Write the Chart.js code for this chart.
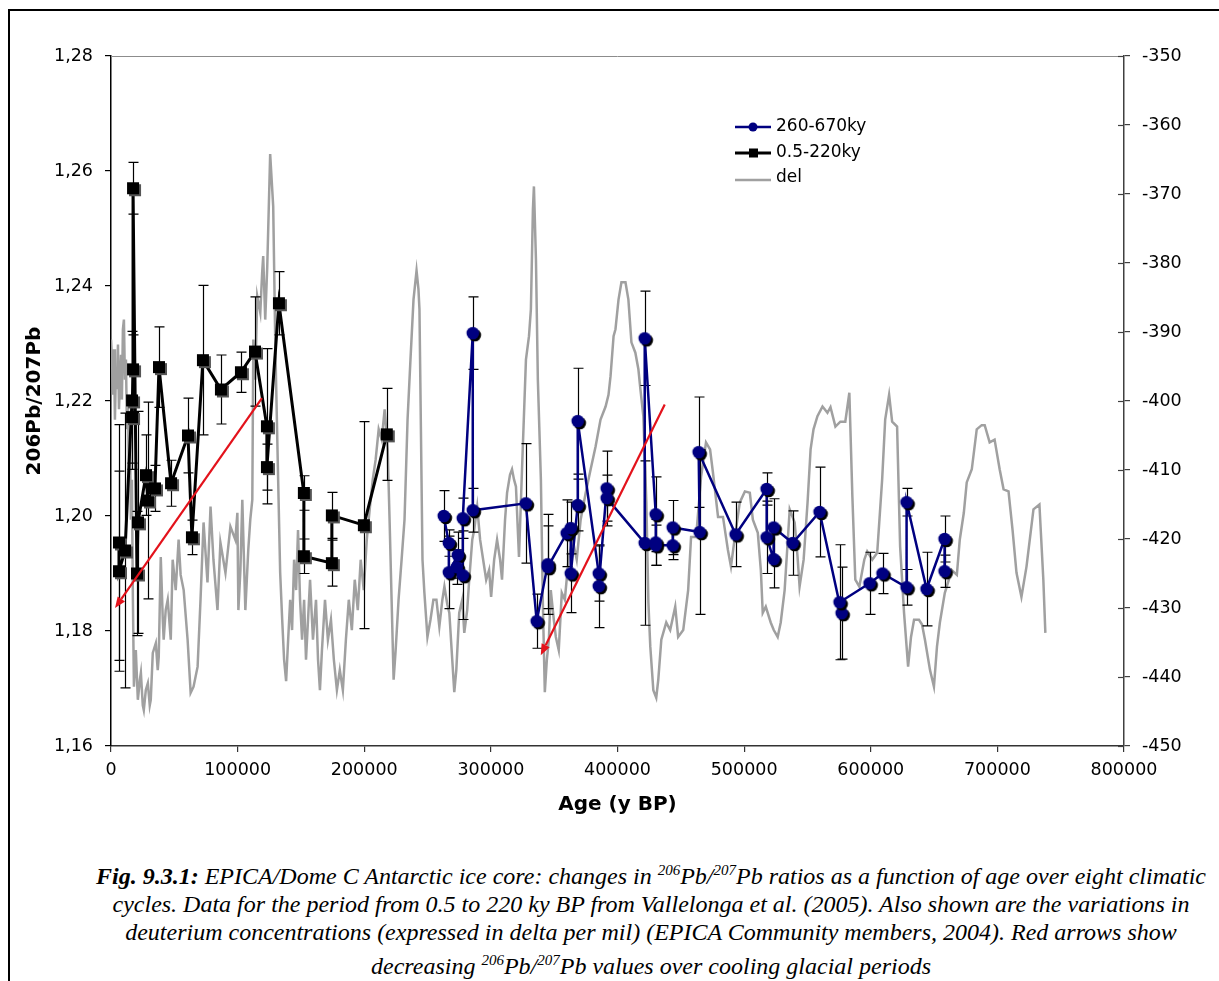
<!DOCTYPE html>
<html>
<head>
<meta charset="utf-8">
<script src="https://cdn.jsdelivr.net/npm/chart.js@4.4.1/dist/chart.umd.min.js"></script>
<style>
html, body { margin: 0; padding: 0; background: #fff; }
body { width: 1219px; height: 981px; overflow: hidden; position: relative; }
#frame { position: absolute; left: 8px; top: 9px; width: 1211px; height: 972px; border-left: 2px solid #000; border-top: 2px solid #000; }
#wrap { position: absolute; left: 0; top: 0; width: 1219px; height: 840px; }
#caption { position: absolute; left: 51px; top: 856px; width: 1200px; text-align: center;
  font-family: "Liberation Serif", "Times New Roman", serif; font-style: italic; font-size: 24px;
  line-height: 28px; white-space: nowrap; color: #000; }
#caption sup { font-size: 15px; }
</style>
</head>
<body>
<div id="frame"></div>
<div id="wrap"><canvas id="pb-chart" width="1219" height="840"></canvas></div>
<div id="caption">
<b>Fig. 9.3.1:</b> EPICA/Dome C Antarctic ice core: changes in <sup>206</sup>Pb/<sup>207</sup>Pb ratios as a function of age over eight climatic<br>
cycles. Data for the period from 0.5 to 220 ky BP from Vallelonga et al. (2005). Also shown are the variations in<br>
deuterium concentrations (expressed in delta per mil) (EPICA Community members, 2004). Red arrows show<br>
decreasing <sup>206</sup>Pb/<sup>207</sup>Pb values over cooling glacial periods
</div>
<script>
'use strict';

/* ── データ ─────────────────────────── */
// 0.5-220ky (age, 206Pb/207Pb, ±err)
const oldAge = [6300, 6300, 11100, 16600, 16600, 17400, 17400, 20500, 21300, 27600, 29200, 34700, 37900, 47400, 60800,
  63900, 72600, 86800, 102600, 113700, 123100, 123100, 132600, 152300, 152300, 174400, 174400, 199700, 217800];
const oldVal = [1.1954, 1.1904, 1.1940, 1.2201, 1.2172, 1.2255, 1.2570, 1.1900, 1.1989, 1.2071, 1.2027, 1.2048, 1.2259, 1.2057, 1.2140,
  1.1963, 1.2271, 1.2220, 1.2250, 1.2286, 1.2156, 1.2085, 1.2370, 1.2040, 1.1930, 1.1918, 1.2001, 1.1984, 1.2142];
const oldErr = [0.0205, 0.0174, 0.0239, 0.012, 0.008, 0.006, 0.0045, 0.0108, 0.0193, 0.007, 0.0171, 0.004, 0.007, 0.004, 0.0065,
  0.003, 0.013, 0.006, 0.0035, 0.0095, 0.0135, 0.004, 0.0055, 0.003, 0.003, 0.004, 0.004, 0.018, 0.008];

// 260-670ky
const newAge = [262800, 266800, 266800, 273900, 273100, 277800, 277800, 285700, 285700, 327600, 336200, 344900, 344900, 359900, 363100, 363100,
  368600, 368600, 385200, 385200, 391500, 391500, 421500, 421500, 430200, 430200, 430200, 443600, 443600, 464900, 464100, 493300,
  517800, 517800, 523300, 523300, 538300, 559600, 577000, 575400, 599100, 609300, 628300, 628300, 644100, 658300, 658300];
const newVal = [1.2000, 1.1953, 1.1902, 1.1932, 1.1911, 1.1897, 1.1996, 1.2318, 1.2010, 1.2022, 1.1817, 1.1916, 1.1911, 1.1970, 1.1979, 1.1900,
  1.2019, 1.2165, 1.1900, 1.1878, 1.2048, 1.2031, 1.1953, 1.2309, 1.2003, 1.1954, 1.1949, 1.1949, 1.1980, 1.1972, 1.2111, 1.1968,
  1.2047, 1.1963, 1.1925, 1.1980, 1.1953, 1.2007, 1.1831, 1.1850, 1.1883, 1.1900, 1.1876, 1.2024, 1.1873, 1.1960, 1.1904];
const newErr = [0.0044, 0.0023, 0.0063, 0.004, 0.003, 0.0077, 0.0035, 0.0063, 0.0038, 0.0104, 0.0047, 0.0087, 0.0072, 0.0058, 0.0045, 0.0068,
  0.0045, 0.0092, 0.0048, 0.0072, 0.0065, 0.004, 0.0143, 0.0082, 0.0065, 0.004, 0.0035, 0.0025, 0.0047, 0.0143, 0.0096, 0.0056,
  0.0028, 0.0063, 0.005, 0.005, 0.0056, 0.0078, 0.008, 0.010, 0.0054, 0.0035, 0.0031, 0.0024, 0.0064, 0.004, 0.0028];

// del (deuterium, 右軸) [age, ‰]
const delRecord = [
  [0,-391.1],[800,-394.0],[1600,-399.1],[2400,-392.5],[3100,-402.7],[3900,-395.4],[4700,-398.3],[5500,-391.8],[6300,-401.2],[7100,-396.9],
  [7900,-393.3],[8600,-399.8],[9400,-389.6],[10200,-388.2],[11000,-396.9],[11800,-394.0],[12600,-404.1],[13400,-399.8],[14100,-409.9],[14900,-405.6],
  [15700,-417.2],[16500,-411.4],[17300,-428.8],[18100,-441.4],[19600,-436.1],[21200,-443.3],[22800,-440.4],[23600,-439.4],[25100,-444.1],[25900,-444.8],
  [27500,-441.9],[29100,-440.9],[30600,-444.1],[31400,-443.3],[33000,-436.5],[35400,-435.1],[36900,-439.0],[37700,-437.1],[39300,-422.6],[40900,-431.7],
  [41600,-434.6],[43200,-430.3],[44800,-428.8],[47200,-434.6],[48700,-423.0],[51100,-427.4],[53400,-420.1],[55000,-425.2],[57400,-427.4],[60500,-434.6],
  [62900,-442.3],[65200,-441.4],[68400,-438.5],[70700,-428.8],[73100,-417.6],[76200,-426.3],[78600,-415.3],[80900,-423.0],[84100,-430.3],[86400,-420.5],
  [90400,-424.9],[94300,-418.2],[98200,-420.1],[99800,-416.2],[100600,-430.3],[102200,-424.5],[103700,-414.3],[106100,-430.3],[108400,-421.6],[110000,-417.2],
  [111600,-414.3],[112400,-391.1],[113900,-396.9],[115500,-384.8],[117900,-387.2],[119400,-381.3],[120200,-379.0],[121800,-388.2],[123400,-380.5],[125700,-364.2],
  [128100,-371.8],[129700,-391.1],[130500,-398.3],[132000,-411.4],[133600,-424.9],[135200,-431.7],[136700,-437.5],[138300,-440.6],[139900,-434.6],[141500,-428.8],
  [143000,-433.2],[144600,-423.0],[146200,-427.4],[147700,-418.7],[149300,-428.8],[150900,-434.6],[152500,-428.8],[154000,-437.5],[155600,-431.7],[157200,-425.9],
  [159500,-434.6],[161900,-428.8],[163500,-437.5],[165000,-441.9],[166600,-436.1],[169000,-428.8],[171300,-434.6],[173700,-431.7],[176000,-437.5],[178400,-441.9],
  [180700,-439.0],[183100,-441.9],[185500,-434.6],[187800,-428.8],[190200,-433.2],[192500,-425.9],[194900,-430.3],[197200,-423.0],[199600,-427.4],[202000,-420.1],
  [204300,-415.7],[206700,-411.4],[209000,-408.5],[211400,-404.1],[213800,-405.6],[216100,-401.2],[218500,-407.0],[220000,-417.2],[221600,-428.8],[223200,-440.4],
  [224800,-436.1],[227100,-428.8],[229500,-423.0],[231800,-417.2],[234200,-402.7],[236500,-394.0],[238900,-385.3],[241300,-381.1],[242800,-383.8],[243600,-386.7],
  [246000,-423.0],[247500,-427.8],[249900,-434.2],[252300,-431.7],[254600,-428.8],[257000,-428.8],[259300,-432.7],[261700,-428.8],[263300,-426.9],[265600,-429.5],
  [267200,-430.7],[269500,-437.5],[271100,-442.2],[272700,-439.0],[275000,-430.7],[277400,-428.8],[279000,-433.6],[281300,-430.3],[282900,-425.9],[285300,-420.1],
  [286800,-418.7],[289200,-415.3],[291500,-420.1],[293900,-423.0],[296300,-425.9],[298600,-424.5],[300200,-428.4],[302600,-423.0],[304900,-420.1],[307300,-423.0],
  [308800,-425.9],[311200,-417.2],[312800,-413.3],[315100,-410.7],[316700,-409.9],[318300,-411.4],[319800,-412.4],[322200,-422.6],[324600,-409.9],[327700,-394.0],
  [330100,-390.6],[331600,-386.7],[333200,-372.2],[334000,-368.9],[335600,-379.5],[337100,-396.9],[339500,-411.4],[341000,-428.8],[342600,-442.2],[344200,-437.5],
  [345800,-434.6],[347300,-427.4],[349700,-431.7],[351300,-434.2],[353600,-436.1],[356000,-427.8],[358400,-428.8],[361500,-422.6],[364600,-420.1],[367800,-423.0],
  [370900,-417.2],[374900,-413.3],[378800,-409.9],[382700,-406.6],[386600,-402.7],[390600,-400.8],[392900,-399.1],[394500,-396.4],[396900,-390.6],[398400,-389.6],
  [400800,-385.3],[403100,-382.8],[406300,-382.8],[408600,-385.3],[411000,-391.5],[414100,-393.0],[416500,-395.4],[418100,-398.3],[420400,-402.2],[422800,-414.7],
  [424400,-429.2],[425900,-435.6],[428300,-441.9],[430600,-443.0],[432200,-440.4],[434600,-434.6],[438500,-432.1],[441600,-433.2],[445600,-429.8],[447900,-434.2],
  [451900,-433.2],[455800,-427.4],[458100,-419.7],[462100,-419.7],[466000,-411.0],[469900,-406.0],[473100,-407.0],[475400,-410.4],[479400,-416.8],[483300,-416.8],
  [487200,-421.6],[489600,-424.0],[492700,-419.7],[496600,-414.7],[500600,-413.1],[504500,-413.3],[506900,-417.2],[510800,-419.1],[513200,-424.5],[514700,-430.7],
  [517100,-429.8],[521000,-432.1],[523400,-433.2],[526500,-434.2],[528900,-432.1],[532000,-427.4],[536000,-415.7],[539900,-417.6],[542200,-422.6],[543800,-426.9],
  [547000,-423.0],[550100,-414.7],[552500,-407.0],[554800,-404.1],[557900,-402.2],[561900,-400.8],[565800,-401.7],[568200,-400.9],[572100,-403.7],[576000,-403.0],
  [579900,-403.0],[583100,-398.8],[585500,-413.9],[587800,-425.9],[591000,-426.9],[594900,-423.0],[597200,-421.8],[601200,-423.0],[605100,-422.0],[609000,-411.4],
  [611400,-402.7],[614500,-399.1],[616900,-403.0],[620800,-403.7],[623200,-421.1],[626300,-430.7],[629500,-438.5],[631800,-434.2],[634200,-431.7],[638100,-431.7],
  [640500,-432.4],[642800,-434.6],[646800,-439.0],[649900,-441.4],[652300,-435.6],[654600,-432.1],[658500,-427.8],[664000,-424.5],[668000,-425.2],[670300,-420.1],
  [673500,-416.2],[675800,-411.8],[679800,-409.9],[683700,-404.1],[687600,-403.5],[690000,-403.5],[693900,-406.0],[697800,-405.6],[701800,-409.9],[704900,-412.8],
  [708800,-413.1],[712000,-418.7],[715100,-424.9],[719000,-428.4],[723000,-424.0],[728500,-415.7],[733200,-415.0],[736300,-425.9],[737900,-433.6]
];

// 赤矢印 [age, ratio] tail → head
const arrowFrom = [[119200, 1.2205], [437300, 1.2194]];
const arrowTo   = [[3200, 1.1840],   [339400, 1.1758]];

const legendLabels = ['260-670ky', '0.5-220ky', 'del'];

/* ── 色・マーカー ─────────────────────── */
const NAVY = '#000080';
const GREY = '#a0a0a0';

function makeMarker(kind, color, shadow) {
  const c = document.createElement('canvas');
  c.width = 24; c.height = 24;
  const g = c.getContext('2d');
  const draw = (cx, cy, col) => {
    g.fillStyle = col;
    if (kind === 'circle') { g.beginPath(); g.arc(cx, cy, 6.3, 0, Math.PI * 2); g.fill(); }
    else g.fillRect(cx - 6, cy - 6, 12, 12);
  };
  draw(14, 14, shadow);
  draw(12, 12, color);
  return c;
}
const circleMark = makeMarker('circle', NAVY, '#000');
const squareMark = makeMarker('square', '#000', '#555');

/* ── プラグイン ───────────────────────── */
const errorBars = {
  id: 'errorBars',
  beforeDatasetDraw(chart, args) {
    const ds = chart.data.datasets[args.index];
    if (!ds.errors) return;
    const { ctx } = chart;
    const xs = chart.scales.x, ys = chart.scales.y;
    ctx.save();
    ctx.strokeStyle = '#000';
    ctx.lineWidth = 1.2;
    ds.data.forEach((p, i) => {
      const e = ds.errors[i];
      const x = Math.round(xs.getPixelForValue(p.x)) + 0.5;
      const y1 = ys.getPixelForValue(p.y + e), y2 = ys.getPixelForValue(p.y - e);
      ctx.beginPath();
      ctx.moveTo(x, y1); ctx.lineTo(x, y2);
      ctx.moveTo(x - 5, y1); ctx.lineTo(x + 5, y1);
      ctx.moveTo(x - 5, y2); ctx.lineTo(x + 5, y2);
      ctx.stroke();
    });
    ctx.restore();
  }
};

const frameAndTicks = {
  id: 'frameAndTicks',
  beforeDatasetsDraw(chart) {
    const { ctx, chartArea: a } = chart;
    ctx.save();
    ctx.strokeStyle = '#8c8c8c';
    ctx.lineWidth = 1;
    ctx.beginPath();
    ctx.moveTo(a.left, Math.round(a.top) + 0.5);
    ctx.lineTo(a.right, Math.round(a.top) + 0.5);
    ctx.stroke();
    // 右軸の内側目盛り
    const y1 = chart.scales.y1;
    ctx.strokeStyle = '#404040';
    ctx.lineWidth = 1.2;
    y1.ticks.forEach(t => {
      const y = Math.round(y1.getPixelForValue(t.value)) + 0.5;
      ctx.beginPath(); ctx.moveTo(a.right - 6, y); ctx.lineTo(a.right, y); ctx.stroke();
    });
    ctx.restore();
  }
};

const arrows = {
  id: 'arrows',
  afterDatasetsDraw(chart) {
    const { ctx } = chart;
    const xs = chart.scales.x, ys = chart.scales.y;
    ctx.save();
    ctx.strokeStyle = '#e3121b';
    ctx.fillStyle = '#e3121b';
    ctx.lineWidth = 2.2;
    arrowFrom.forEach((f, i) => {
      const t = arrowTo[i];
      const x0 = xs.getPixelForValue(f[0]), y0 = ys.getPixelForValue(f[1]);
      const x1 = xs.getPixelForValue(t[0]), y1 = ys.getPixelForValue(t[1]);
      const ang = Math.atan2(y1 - y0, x1 - x0);
      const L = 11, W = 4.5;
      const bx = x1 - L * Math.cos(ang), by = y1 - L * Math.sin(ang);
      ctx.beginPath(); ctx.moveTo(x0, y0); ctx.lineTo(bx, by); ctx.stroke();
      ctx.beginPath();
      ctx.moveTo(x1, y1);
      ctx.lineTo(bx + W * Math.sin(ang), by - W * Math.cos(ang));
      ctx.lineTo(bx - W * Math.sin(ang), by + W * Math.cos(ang));
      ctx.closePath(); ctx.fill();
    });
    ctx.restore();
  }
};

const legendBox = {
  id: 'legendBox',
  afterDraw(chart) {
    const { ctx } = chart;
    const rows = [
      { y: 127, color: NAVY, w: 2.5, mark: 'circle' },
      { y: 153, color: '#000', w: 3, mark: 'square' },
      { y: 180, color: GREY, w: 2.5, mark: null },
    ];
    ctx.save();
    ctx.font = '17px "DejaVu Sans", Verdana, sans-serif';
    ctx.textBaseline = 'middle';
    ctx.textAlign = 'left';
    rows.forEach((r, i) => {
      ctx.strokeStyle = r.color; ctx.lineWidth = r.w;
      ctx.beginPath(); ctx.moveTo(735, r.y); ctx.lineTo(771, r.y); ctx.stroke();
      ctx.fillStyle = r.color;
      if (r.mark === 'circle') { ctx.beginPath(); ctx.arc(753, r.y, 4.5, 0, Math.PI * 2); ctx.fill(); }
      if (r.mark === 'square') ctx.fillRect(749, r.y - 4.5, 9, 9);
      ctx.fillStyle = '#000';
      ctx.fillText(legendLabels[i], 776, r.y - (i === 2 ? 2 : 0));
    });
    ctx.restore();
  }
};

/* ── チャート ───────────────────────── */
Chart.defaults.font.family = '"DejaVu Sans", Verdana, sans-serif';
Chart.defaults.color = '#000';

const tickFont = { size: 17.5 };

new Chart(document.getElementById('pb-chart'), {
  type: 'line',
  data: {
    datasets: [
      {
        label: legendLabels[0],
        data: newAge.map((a, i) => ({ x: a, y: newVal[i] })),
        errors: newErr,
        yAxisID: 'y',
        borderColor: NAVY, borderWidth: 2.5,
        pointStyle: circleMark, pointRadius: 6,
        order: 1,
      },
      {
        label: legendLabels[1],
        data: oldAge.map((a, i) => ({ x: a, y: oldVal[i] })),
        errors: oldErr,
        yAxisID: 'y',
        borderColor: '#000', borderWidth: 3,
        pointStyle: squareMark, pointRadius: 6,
        order: 2,
      },
      {
        label: legendLabels[2],
        data: delRecord.map(d => ({ x: d[0], y: d[1] })),
        yAxisID: 'y1',
        borderColor: GREY, borderWidth: 2.5,
        pointRadius: 0,
        order: 3,
      },
    ],
  },
  options: {
    responsive: false,
    devicePixelRatio: 1,
    animation: false,
    layout: { padding: { top: 56, left: 0, right: 0, bottom: 0 } },
    plugins: { legend: { display: false }, tooltip: { enabled: false } },
    scales: {
      x: {
        type: 'linear', min: 0, max: 800000,
        afterFit(s) { s.height = 94; },
        ticks: { stepSize: 100000, font: tickFont, padding: 8, maxRotation: 0, callback: v => String(v) },
        grid: { drawOnChartArea: false, tickLength: 6, color: '#333', lineWidth: 1.2 },
        border: { color: '#333', width: 1.5 },
        title: { display: true, text: 'Age (y BP)', font: { size: 20, weight: 'bold' }, padding: { top: 0, bottom: 23 } },
      },
      y: {
        position: 'left', min: 1.16, max: 1.28,
        afterFit(s) { s.width = 111; },
        ticks: { stepSize: 0.02, font: tickFont, padding: 12, callback: v => v.toFixed(2).replace('.', ',') },
        grid: { drawOnChartArea: false, tickLength: 6, color: '#000', lineWidth: 1.2 },
        border: { color: '#000', width: 1.5 },
        title: { display: true, text: '206Pb/207Pb', font: { size: 20, weight: 'bold' }, padding: { top: 23, bottom: 0 } },
      },
      y1: {
        position: 'right', min: -450, max: -350,
        afterFit(s) { s.width = 95; },
        ticks: { stepSize: 10, font: tickFont, padding: 12 },
        grid: { drawOnChartArea: false, tickLength: 6, color: '#404040', lineWidth: 1.2 },
        border: { color: '#404040', width: 1.5 },
      },
    },
  },
  plugins: [errorBars, frameAndTicks, arrows, legendBox],
});
</script>
</body>
</html>
